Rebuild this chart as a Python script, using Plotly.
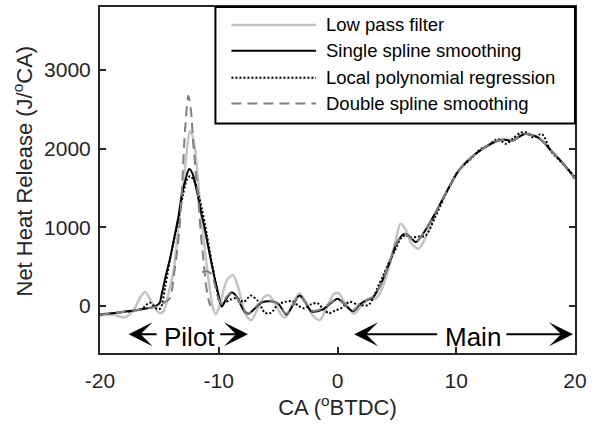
import plotly.graph_objects as go

# Net heat release (J/°CA) against crank angle (°BTDC) for four smoothing methods

# Low pass filter
ca_lowpass = [-20, -19, -18.5, -17.9, -17.2, -16.6, -16.2, -15.7, -15.2, -14.9, -14.6, -14.2,
              -13.8, -13.26, -12.84, -12.42, -12.1, -11.58, -11.0, -10.5, -10.25, -9.9, -9.3,
              -8.8, -8.3, -7.7, -7.25, -6.7, -6.2, -5.8, -5.3, -4.8, -4.4, -3.8, -3.2, -2.6,
              -2.1, -1.5, -0.9, -0.3, 0.1, 0.6, 1.4, 2.0, 2.6, 3.2, 3.6, 4.0, 4.5, 5.0, 5.3,
              5.7, 6.2, 6.8, 7.3, 7.8, 8.3, 9.1, 10.2, 11.3, 12.4, 13.5, 14.2, 14.7, 15.3,
              15.8, 16.4, 16.9, 17.5, 18.0, 18.9, 19.5, 20]
hr_lowpass = [-120, -110, -130, -145, -60, 110, 175, 60, -60, -95, -60, 180,
              450, 1210, 1750, 2220, 2100, 1300, 495, -15, -110, 20, 330,
              390, 200, -120, -180, -30, 110, 135, 40, -100, -150, 20, 160, 30,
              -120, -180, -20, 150, 160, 40, -100, 0, 80, 90, 170, 320, 580, 900, 1045,
              980, 800, 727, 830, 1000, 1180, 1420, 1715, 1895, 2010, 2100, 2120, 2100, 2160,
              2190, 2175, 2140, 2060, 1975, 1830, 1715, 1620]

# Single spline smoothing
ca_single = [-20, -19, -18, -17, -16, -15.5, -15.0, -14.8, -14.4, -14.1, -13.7, -13.4, -13.1,
             -12.8, -12.5, -12.2, -11.86, -11.5, -11.2, -10.9, -10.5, -10.05, -9.75, -9.4,
             -8.9, -8.5, -7.9, -7.5, -7.0, -6.4, -5.5, -5.0, -4.3, -3.7, -3.2, -2.7, -2.2,
             -1.3, -0.5, 0.0, 0.6, 1.3, 1.9, 2.4, 3.0, 3.5, 4.0, 4.5, 5.0, 5.6, 6.0, 6.6,
             7.0, 7.4, 8.2, 9.1, 10.2, 11.3, 12.4, 13.5, 14.2, 14.7, 15.3, 15.8, 16.4, 16.9,
             17.5, 18.0, 18.9, 19.5, 20]
hr_single = [-110, -95, -75, -55, -30, -15, 30, 150, 420, 600, 900, 1130, 1420,
             1600, 1740, 1680, 1470, 1200, 1000, 760, 460, 160, -10, 80,
             170, 120, -60, -100, -40, 40, 55, 30, -110, 20, 130, 40, -70,
             -50, 40, 90, 20, -70, 20, 70, 110, 230, 400, 600, 800, 915, 890, 810,
             870, 960, 1170, 1425, 1720, 1890, 2015, 2100, 2110, 2095, 2150, 2185, 2170, 2140,
             2060, 1970, 1825, 1720, 1615]

# Local polynomial regression
ca_local = [-20, -19, -18, -17, -16.4, -15.8, -15.2, -14.9, -14.5, -14.1, -13.7, -13.4, -13.0,
            -12.7, -12.4, -12.1, -11.8, -11.4, -11.0, -10.6, -10.2, -9.9, -9.5, -9.0, -8.5,
            -7.9, -7.3, -6.7, -6.1, -5.6, -5.0, -4.4, -3.8, -3.3, -2.8, -2.2, -1.7, -1.2,
            -0.7, -0.2, 0.3, 1.0, 1.8, 2.6, 3.0, 3.4, 3.8, 4.3, 4.8, 5.3, 5.7, 6.2, 6.8,
            7.4, 8.2, 9.1, 10.2, 11.3, 12.1, 12.6, 13.5, 14.2, 14.8, 15.4, 15.9, 16.5, 17.2,
            18.0, 18.5, 19.0, 19.5, 20]
hr_local = [-110, -95, -80, -60, -30, 40, -40, -30, 250, 600, 880, 1100, 1420,
            1600, 1650, 1600, 1470, 1220, 900, 560, 250, 40, 40, 80, 100,
            50, 130, 60, -90, -90, 20, 50, 60, 0, -30, 20, 35, -40,
            -95, -60, -30, 50, 10, 10, 100, 240, 370, 540, 690, 850, 900, 870, 880,
            890, 1120, 1420, 1720, 1880, 2000, 2030, 2120, 2060, 2130, 2200, 2205, 2140, 2185,
            1960, 1880, 1800, 1720, 1640]

# Double spline smoothing: pilot spline, then main spline
ca_double_pilot = [-20, -19, -18, -17, -16, -15, -14.6, -14.1, -13.8, -13.53, -13.3, -13.1,
                   -12.84, -12.56, -12.35, -12.14, -11.93, -11.72, -11.5, -11.3, -11.1,
                   -10.9, -10.7]
hr_double_pilot = [-110, -95, -75, -55, -30, 0, 40, 100, 370, 665, 1000, 1480,
                   2230, 2670, 2500, 2050, 1700, 1350, 900, 600, 300,
                   100, 0]
ca_double_main = [-11.4, -11.0, -10.6, -10.3, -10.0, -9.75, -9.4, -8.9, -8.5, -7.9, -7.5,
                  -7.0, -6.4, -5.5, -5.0, -4.3, -3.7, -3.2, -2.7, -2.2, -1.3, -0.5, 0.0,
                  0.6, 1.3, 1.9, 2.4, 3.0, 3.5, 4.0, 4.5, 5.0, 5.6, 6.0, 6.6, 7.0, 7.4,
                  8.2, 9.1, 10.2, 11.3, 12.4, 13.5, 14.2, 14.7, 15.3, 15.8, 16.4, 16.9,
                  17.5, 18.0, 18.9, 19.5, 20]
hr_double_main = [430, 440, 400, 250, 80, 20, 100, 180, 110, -50, -95,
                  -30, 50, 60, 20, -100, 30, 130, 40, -60, -40, 50, 80,
                  20, -60, 30, 70, 120, 230, 400, 610, 810, 915, 885, 815, 875, 960,
                  1170, 1425, 1720, 1890, 2015, 2100, 2110, 2095, 2150, 2185, 2170, 2140,
                  2060, 1970, 1825, 1720, 1615]

x_ticks = [-20, -10, 0, 10, 20]
x_tick_labels = ["-20", "-10", "0", "10", "20"]
y_ticks = [0, 1000, 2000, 3000]
y_tick_labels = ["0", "1000", "2000", "3000"]

FONT = "Liberation Sans, Arial, sans-serif"
AXIS_COLOR = "#262626"
LIGHT = "#c4c4c4"
MID = "#808080"

series = [
    ("Low pass filter", ca_lowpass, hr_lowpass, dict(color=LIGHT, width=2.5)),
    ("Single spline smoothing", ca_single, hr_single, dict(color="black", width=2)),
    ("Local polynomial regression", ca_local, hr_local, dict(color="black", width=2, dash="2px,2px")),
    ("Double spline smoothing", ca_double_pilot + [None] + ca_double_main,
     hr_double_pilot + [None] + hr_double_main, dict(color=MID, width=2, dash="10px,6px")),
]

fig = go.Figure()
for name, xs, ys, line in series:
    fig.add_trace(go.Scatter(x=xs, y=ys, name=name, mode="lines",
                             line=dict(shape="spline", smoothing=0.8, **line),
                             showlegend=False, connectgaps=False))

# Boxed legend in the upper right of the axes
shapes = [dict(type="rect", xref="paper", yref="paper", x0=0.243, x1=1.0, y0=0.6635, y1=1.0,
               line=dict(color="black", width=2), fillcolor="white", layer="above")]
annotations = []
row_y = [0.9483, 0.8734, 0.7958, 0.7210]
for (name, _, _, line), yy in zip(series, row_y):
    shapes.append(dict(type="line", xref="paper", yref="paper", x0=0.2767, x1=0.4549,
                       y0=yy, y1=yy, line=line, layer="above"))
    annotations.append(dict(text=name, xref="paper", yref="paper", x=0.4717, y=yy,
                            xanchor="left", yanchor="middle", showarrow=False,
                            font=dict(family=FONT, size=18.5, color="black")))

# Injection phase markers
arrow = dict(xref="x", yref="y", axref="x", ayref="y", text="", showarrow=True,
             arrowhead=3, arrowsize=2, arrowwidth=2, arrowcolor="black")
annotations += [
    dict(x=-17.59, y=-360, ax=-15.1, ay=-360, **arrow),
    dict(x=-7.54, y=-360, ax=-10.0, ay=-360, **arrow),
    dict(x=1.40, y=-360, ax=8.52, ay=-360, **arrow),
    dict(x=19.83, y=-360, ax=14.1, ay=-360, **arrow),
    dict(text="Pilot", x=-12.5, y=-400, xref="x", yref="y", showarrow=False,
         font=dict(family=FONT, size=26, color="black")),
    dict(text="Main", x=11.45, y=-400, xref="x", yref="y", showarrow=False,
         font=dict(family=FONT, size=26, color="black")),
    # y-axis title
    dict(text="Net Heat Release (J/<sup>o</sup>CA)", xref="paper", yref="paper",
         x=-0.1614, y=0.5255, xanchor="center", yanchor="middle", textangle=-90,
         showarrow=False, font=dict(family=FONT, size=22, color=AXIS_COLOR)),
]

axis_common = dict(showline=True, linecolor=AXIS_COLOR, linewidth=2, mirror="ticks",
                   ticks="inside", ticklen=6, tickwidth=1.5, tickcolor=AXIS_COLOR,
                   showgrid=False, zeroline=False,
                   tickfont=dict(family=FONT, size=21, color=AXIS_COLOR))

fig.update_layout(
    width=592, height=428,
    margin=dict(l=100, r=15, t=5, b=75),
    paper_bgcolor="white", plot_bgcolor="white",
    xaxis=dict(range=[-20, 20], tickvals=x_ticks, ticktext=x_tick_labels,
               ticklabelstandoff=8,
               title=dict(text="CA (<sup>o</sup>BTDC)", standoff=6,
                          font=dict(family=FONT, size=22, color=AXIS_COLOR)),
               **axis_common),
    yaxis=dict(range=[-600, 3800], tickvals=y_ticks, ticktext=y_tick_labels,
               ticklabelstandoff=3,
               **axis_common),
    shapes=shapes,
    annotations=annotations,
)

fig.write_html("out.html")
